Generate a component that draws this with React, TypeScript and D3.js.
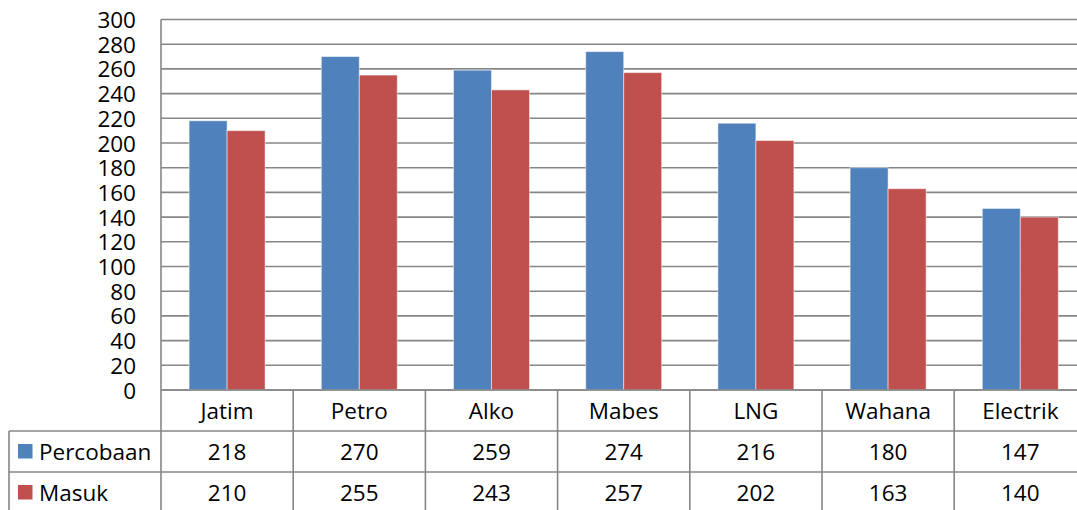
import React from "react";
import * as d3 from "d3";

const categories = ["Jatim", "Petro", "Alko", "Mabes", "LNG", "Wahana", "Electrik"];
const seriesNames = ["Percobaan", "Masuk"];
const percobaan = [218, 270, 259, 274, 216, 180, 147];
const masuk = [210, 255, 243, 257, 202, 163, 140];
const yTicks = [0, 20, 40, 60, 80, 100, 120, 140, 160, 180, 200, 220, 240, 260, 280, 300];
const colors = ["#4F81BD", "#C0504D"];

const W = 1077;
const H = 510;
const plotLeft = 161;
const colW = 132.2;
const plotTop = 19.5;
const plotBottom = 390;
const row0 = 390; // header row top
const row1 = 431;
const row2 = 472;
const row3 = 513;
const tableLeft = 9;
const font = "'Open Sans', sans-serif";
const lineColor = "#868686";
const fs = 22.5;

export default function App() {
  const series = [percobaan, masuk];
  const x0 = d3
    .scaleBand<string>()
    .domain(categories)
    .range([plotLeft, plotLeft + colW * categories.length])
    .paddingInner(0)
    .paddingOuter(0);
  const x1 = d3
    .scaleBand<string>()
    .domain(seriesNames)
    .range([0, x0.bandwidth()])
    .paddingInner(0)
    .paddingOuter(0.74);
  const y = d3.scaleLinear().domain([0, 300]).range([plotBottom, plotTop]);
  const right = W;

  return (
    <svg
      width={W}
      height={H}
      style={{ position: "absolute", left: 0, top: 0, background: "#fff" }}
      fontFamily={font}
    >
      {/* gridlines */}
      {yTicks.map((t) => (
        <line
          key={"g" + t}
          x1={plotLeft}
          x2={right}
          y1={y(t)}
          y2={y(t)}
          stroke={lineColor}
          strokeWidth={1.6}
        />
      ))}
      {/* y tick labels */}
      {yTicks.map((t) => (
        <text
          key={"t" + t}
          x={136}
          y={y(t)}
          textAnchor="end"
          dominantBaseline="central"
          fontSize={fs}
          fill="#000"
        >
          {t}
        </text>
      ))}
      {/* bars */}
      {categories.map((c, i) => (
        <g key={c} transform={`translate(${x0(c)},0)`}>
          {series.map((s, j) => (
            <rect
              key={j}
              x={x1(seriesNames[j])!}
              y={y(s[i])}
              width={x1.bandwidth()}
              height={y(0) - y(s[i])}
              fill={colors[j]}
              stroke="#ffffff"
              strokeOpacity={0.5}
              strokeWidth={1}
            />
          ))}
        </g>
      ))}
      {/* table horizontal lines */}
      <line x1={plotLeft} x2={right} y1={row0} y2={row0} stroke={lineColor} strokeWidth={1.6} />
      <line x1={tableLeft} x2={right} y1={row1} y2={row1} stroke={lineColor} strokeWidth={1.6} />
      <line x1={tableLeft} x2={right} y1={row2} y2={row2} stroke={lineColor} strokeWidth={1.6} />
      <line x1={tableLeft} x2={right} y1={row3} y2={row3} stroke={lineColor} strokeWidth={1.6} />
      {/* table vertical lines */}
      <line x1={tableLeft} x2={tableLeft} y1={row1} y2={H} stroke={lineColor} strokeWidth={1.6} />
      <line x1={plotLeft} x2={plotLeft} y1={plotTop} y2={H} stroke={lineColor} strokeWidth={1.6} />
      {categories.map((c) => (
        <line
          key={"v" + c}
          x1={x0(c)! + colW}
          x2={x0(c)! + colW}
          y1={row0}
          y2={H}
          stroke={lineColor}
          strokeWidth={1.6}
        />
      ))}
      {/* header labels */}
      {categories.map((c) => (
        <text
          key={"h" + c}
          x={x0(c)! + colW / 2}
          y={(row0 + row1) / 2}
          textAnchor="middle"
          dominantBaseline="central"
          fontSize={fs}
          fill="#000"
        >
          {c}
        </text>
      ))}
      {/* rows */}
      {series.map((s, j) => {
        const top = j === 0 ? row1 : row2;
        const cy = top + 20;
        return (
          <g key={"r" + j}>
            <rect x={18} y={cy - 7} width={14.5} height={14.5} fill={colors[j]} />
            <text x={39} y={cy} dominantBaseline="central" fontSize={fs} fill="#000">
              {seriesNames[j]}
            </text>
            {categories.map((c, i) => (
              <text
                key={c}
                x={x0(c)! + colW / 2}
                y={cy}
                textAnchor="middle"
                dominantBaseline="central"
                fontSize={fs}
                fill="#000"
              >
                {s[i]}
              </text>
            ))}
          </g>
        );
      })}
    </svg>
  );
}
